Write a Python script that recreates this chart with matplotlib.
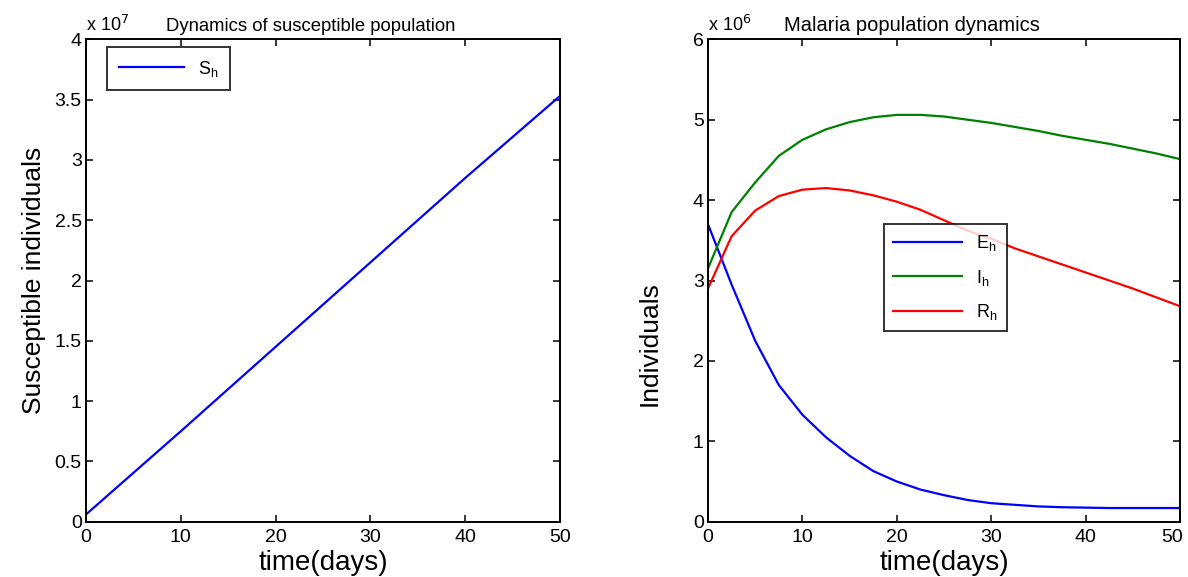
import matplotlib
matplotlib.use("Agg")
import matplotlib.pyplot as plt
from matplotlib.ticker import FuncFormatter, MultipleLocator
from matplotlib.transforms import ScaledTranslation

plt.rcParams['font.family'] = ['Liberation Sans', 'DejaVu Sans']

# ---- data ----
t_s = [0, 10, 20, 30, 40, 50]
S_h = [0.06e7, 0.75e7, 1.45e7, 2.15e7, 2.85e7, 3.53e7]

t = [0, 2.5, 5, 7.5, 10, 12.5, 15, 17.5, 20, 22.5, 25, 27.5, 30,
     32.5, 35, 37.5, 40, 42.5, 45, 47.5, 50]
E_h = [3.70, 2.95, 2.25, 1.70, 1.33, 1.05, 0.82, 0.63, 0.50, 0.40, 0.33,
       0.27, 0.23, 0.21, 0.19, 0.18, 0.175, 0.17, 0.17, 0.17, 0.17]
I_h = [3.15, 3.85, 4.22, 4.55, 4.75, 4.88, 4.97, 5.03, 5.06, 5.06, 5.04,
       5.00, 4.96, 4.91, 4.86, 4.80, 4.75, 4.70, 4.64, 4.58, 4.51]
R_h = [2.90, 3.55, 3.87, 4.05, 4.13, 4.15, 4.12, 4.06, 3.98, 3.88, 3.75,
       3.62, 3.52, 3.40, 3.30, 3.20, 3.10, 3.00, 2.90, 2.79, 2.68]
E_h = [v * 1e6 for v in E_h]
I_h = [v * 1e6 for v in I_h]
R_h = [v * 1e6 for v in R_h]
x_ticks = [0, 10, 20, 30, 40, 50]

fig = plt.figure(figsize=(11.88, 5.77), dpi=100)
ax1 = fig.add_axes([86/1188, (577-521.7)/577, 474/1188, 482.4/577])
ax2 = fig.add_axes([708/1188, (577-521.7)/577, 472/1188, 482.4/577])

def style(ax):
    for s in ax.spines.values():
        s.set_linewidth(1.4)
        s.set_color('black')
    ax.tick_params(direction='in', top=True, right=True, length=5, width=1.1,
                   labelsize=14)
    ax.tick_params(axis='x', pad=5)
    ax.tick_params(axis='y', pad=3)
    ax.set_xlim(0, 50)
    ax.set_xticks(x_ticks)
    ax.set_xticklabels([str(v) for v in x_ticks])

# Left
ax1.plot(t_s, S_h, color=(0, 0, 1), lw=1.6, label='S$_\\mathregular{h}$')
style(ax1)
ax1.set_ylim(0, 4e7)
ax1.yaxis.set_major_locator(MultipleLocator(0.5e7))
ax1.yaxis.set_major_formatter(FuncFormatter(lambda v, p: f"{v/1e7:g}"))
ax1.set_xlabel('time(days)', fontsize=20, labelpad=3)
ax1.set_ylabel('Susceptible individuals', fontsize=19, labelpad=6)
ax1.text(0.0, 1.008, 'x 10$^{7}$', transform=ax1.transAxes, fontsize=13, va='bottom', ha='left')
ax1.text(0.473, 1.008, 'Dynamics of susceptible population', transform=ax1.transAxes,
         fontsize=13.3, va='bottom', ha='center')
leg1 = ax1.legend(loc='upper left', bbox_to_anchor=(0.044, 0.984), fontsize=13,
                  frameon=True, fancybox=False, handlelength=3.6, borderpad=0.65,
                  borderaxespad=0)
leg1.get_frame().set_edgecolor('black')
leg1.get_frame().set_linewidth(1.4)

# Right
ax2.plot(t, E_h, color=(0, 0, 1), lw=1.6, label='E$_\\mathregular{h}$')
ax2.plot(t, I_h, color=(0, 0.5, 0), lw=1.6, label='I$_\\mathregular{h}$')
ax2.plot(t, R_h, color=(1, 0, 0), lw=1.6, label='R$_\\mathregular{h}$')
style(ax2)
ax2.set_ylim(0, 6e6)
ax2.yaxis.set_major_locator(MultipleLocator(1e6))
ax2.yaxis.set_major_formatter(FuncFormatter(lambda v, p: f"{v/1e6:g}"))
ax2.set_xlabel('time(days)', fontsize=20, labelpad=3)
ax2.set_ylabel('Individuals', fontsize=19)
ax2.yaxis.set_label_coords(-0.098, 0.37)
ax2.text(0.0, 1.008, 'x 10$^{6}$', transform=ax2.transAxes, fontsize=13, va='bottom', ha='left')
ax2.text(0.432, 1.008, 'Malaria population dynamics', transform=ax2.transAxes,
         fontsize=14.5, va='bottom', ha='center')
leg2 = ax2.legend(loc='upper left', bbox_to_anchor=(0.373, 0.617), fontsize=13,
                  frameon=True, fancybox=False, handlelength=3.8, borderpad=0.5,
                  labelspacing=0.8, borderaxespad=0)
leg2.get_frame().set_edgecolor('black')
leg2.get_frame().set_linewidth(1.4)

# keep the last x tick label of the right panel inside the figure
last = ax2.get_xticklabels()[-1]
last.set_transform(last.get_transform() + ScaledTranslation(-6/72, 0, fig.dpi_scale_trans))

fig.savefig('out.png', dpi=100)
